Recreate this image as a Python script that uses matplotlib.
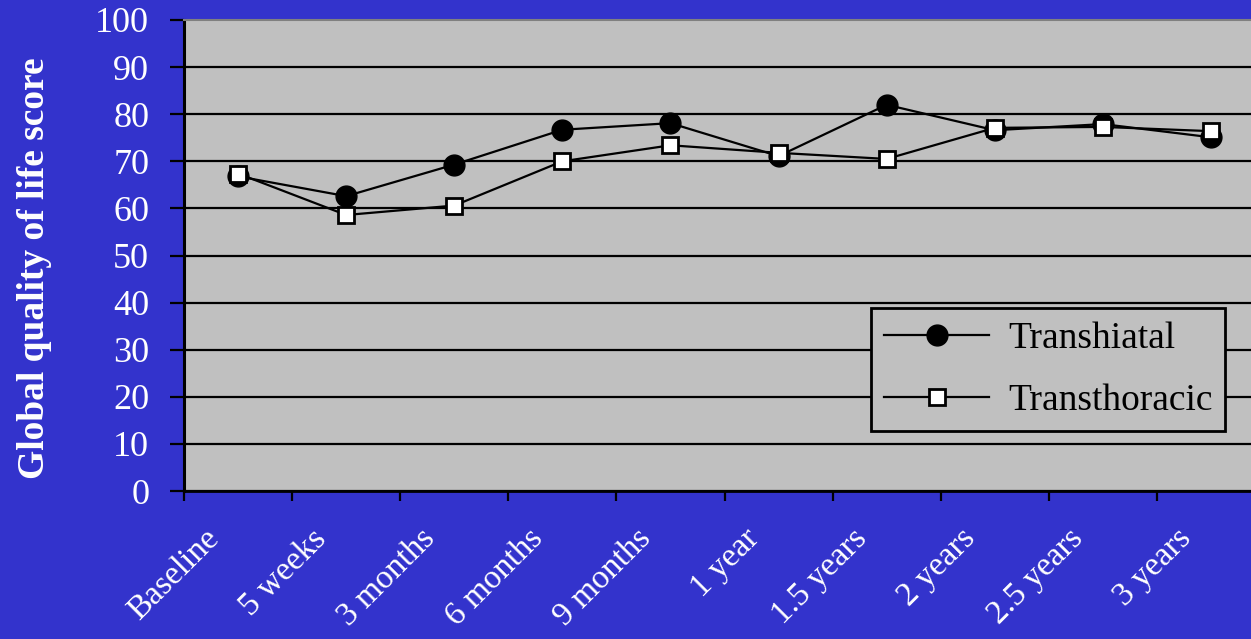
import matplotlib
matplotlib.use("Agg")
import matplotlib.pyplot as plt
import matplotlib.transforms as mtransforms
import numpy as np

# data
timepoints = ["Baseline", "5 weeks", "3 months", "6 months", "9 months",
              "1 year", "1.5 years", "2 years", "2.5 years", "3 years"]
transhiatal = [66.8, 62.6, 69.3, 76.7, 78.1, 71.1, 82.0, 76.6, 77.9, 75.1]
transthoracic = [67.4, 58.6, 60.6, 70.0, 73.4, 71.8, 70.5, 77.1, 77.3, 76.4]
yticks = list(range(0, 101, 10))

BLUE = "#3333CC"
GRAY = "#C0C0C0"

plt.rcParams["font.family"] = ["Liberation Serif", "DejaVu Serif"]

fig = plt.figure(figsize=(12.51, 6.39), dpi=100, facecolor=BLUE)
ax = fig.add_axes([184/1251, 148/639, 1081/1251, 471/639])
ax.set_facecolor(GRAY)

x = np.arange(len(timepoints)) + 0.5
ax.plot(x, transhiatal, color="black", lw=1.6, marker="o", ms=15,
        mfc="black", mec="black", label="Transhiatal", zorder=3)
ax.plot(x, transthoracic, color="black", lw=1.6, marker="s", ms=12,
        mfc="white", mec="black", mew=2, label="Transthoracic", zorder=4)

ax.set_xlim(0, len(timepoints))
ax.set_ylim(0, 100)
ax.set_yticks(yticks)
ax.yaxis.grid(True, color="black", lw=1.6)
ax.get_ygridlines()[-1].set_visible(False)
ax.set_axisbelow(True)

# boundary ticks (major) and category labels (minor)
ax.set_xticks(np.arange(len(timepoints) + 1))
ax.set_xticklabels([])
ax.set_xticks(x, minor=True)
ax.set_xticklabels(timepoints, minor=True, rotation=45, ha="right",
                   va="center", rotation_mode="anchor", color="white",
                   fontsize=24)
ax.tick_params(axis="x", which="major", length=7, width=1.6, color="black")
ax.tick_params(axis="x", which="minor", length=0, pad=31)
offset = mtransforms.ScaledTranslation(-24/100, 0, fig.dpi_scale_trans)
for lab in ax.get_xticklabels(minor=True):
    lab.set_transform(lab.get_transform() + offset)

ax.tick_params(axis="y", length=10, width=1.6, color="black",
               labelcolor="white", labelsize=26, pad=15)

ax.spines["left"].set_linewidth(2.2)
ax.spines["left"].set_color("black")
ax.spines["bottom"].set_linewidth(2)
ax.spines["bottom"].set_color("black")
ax.spines["top"].set_color("#808080")
ax.spines["top"].set_linewidth(1.5)
ax.spines["right"].set_visible(False)

ax.set_ylabel("Global quality of life score", color="white", fontsize=27,
              fontweight="bold", va="center")
ax.yaxis.set_label_coords(-0.138, 0.473)

leg = ax.legend(loc="upper left", bbox_to_anchor=(0.6355, 0.3885),
                fontsize=27, frameon=True, fancybox=False, framealpha=1,
                facecolor=GRAY, edgecolor="black", handlelength=2.8,
                handletextpad=0.5, borderpad=0.35, labelspacing=0.75,
                borderaxespad=0)
leg.get_frame().set_linewidth(2)
for t in leg.get_texts():
    t.set_color("black")

fig.savefig("out.png", dpi=100, facecolor=BLUE)
